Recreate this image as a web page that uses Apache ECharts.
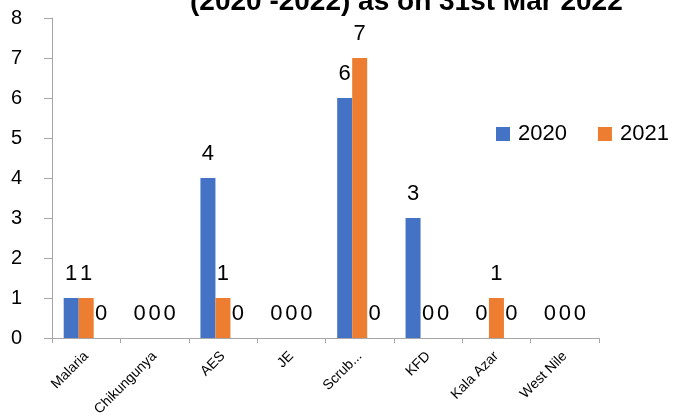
<!DOCTYPE html>
<html>
<head>
<meta charset="utf-8">
<script src="https://cdn.jsdelivr.net/npm/echarts@6/dist/echarts.min.js"></script>
<style>html,body{margin:0;padding:0;background:#fff;}#c{width:679px;height:419px;}</style>
</head>
<body>
<div id="c"></div>
<script>
const categories = ['Malaria', 'Chikungunya', 'AES', 'JE', 'Scrub...', 'KFD', 'Kala Azar', 'West Nile'];
const values2020 = [1, 0, 4, 0, 6, 3, 0, 0];
const values2021 = [1, 0, 1, 0, 7, 0, 1, 0];
const values2022 = [0, 0, 0, 0, 0, 0, 0, 0];
const yTicks = [0, 1, 2, 3, 4, 5, 6, 7, 8];
const titleText = '(2020 -2022) as on 31st Mar 2022';

const FONT = 'Liberation Sans';
const chart = echarts.init(document.getElementById('c'), null, {renderer: 'canvas'});
const labelCfg = {show: true, position: 'top', distance: 13, color: '#000', fontSize: 22, fontFamily: FONT};
chart.setOption({
  animation: false,
  backgroundColor: '#fff',
  title: {
    text: titleText, left: 185, top: -17,
    textStyle: {fontFamily: FONT, fontWeight: 'bold', fontSize: 28, color: '#000'}
  },
  legend: {
    data: ['2020', '2021'], left: 491, top: 118, itemWidth: 14, itemHeight: 14, itemGap: 31,
    icon: 'rect',
    textStyle: {fontFamily: FONT, fontSize: 22, color: '#000', padding: [0, 0, 0, 3]}
  },
  grid: {left: 52, right: 80, top: 18, bottom: 81, containLabel: false},
  xAxis: {
    type: 'category', data: categories,
    axisLine: {lineStyle: {color: '#a6a6a6', width: 1}},
    axisTick: {show: true, length: 5, lineStyle: {color: '#a6a6a6'}},
    axisLabel: {rotate: 45, fontSize: 14, fontFamily: FONT, color: '#000', margin: 16, interval: 0}
  },
  yAxis: {
    type: 'value', min: yTicks[0], max: yTicks[yTicks.length - 1], interval: 1,
    axisLine: {show: true, lineStyle: {color: '#a6a6a6', width: 1}},
    axisTick: {show: true, length: 8, lineStyle: {color: '#a6a6a6'}},
    splitLine: {show: false},
    axisLabel: {fontSize: 20, fontFamily: FONT, color: '#000', margin: 30,
      formatter: v => yTicks.includes(v) ? String(v) : ''}
  },
  series: [
    {name: '2020', type: 'bar', data: values2020, barWidth: 15, barGap: '0%',
     itemStyle: {color: '#4472C4'}, label: labelCfg},
    {name: '2021', type: 'bar', data: values2021, barWidth: 15, barGap: '0%',
     itemStyle: {color: '#ED7D31'}, label: labelCfg},
    {name: '2022', type: 'bar', data: values2022, barWidth: 15, barGap: '0%',
     itemStyle: {color: '#A5A5A5'}, label: labelCfg}
  ]
});
</script>
</body>
</html>
